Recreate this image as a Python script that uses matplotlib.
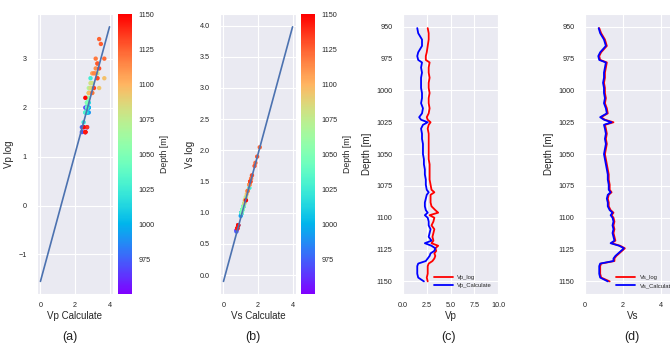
import numpy as np
import matplotlib
matplotlib.use('Agg')
import matplotlib.pyplot as plt
import seaborn as sns

sns.set_style('darkgrid')
plt.rcParams['font.family'] = ['Liberation Sans', 'DejaVu Sans']

# depth samples [m]
depth = [951, 955, 960, 965, 970, 973, 976, 978, 982, 986, 990, 994, 998, 1002,
         1006, 1010, 1014, 1018, 1021, 1023, 1025, 1027, 1030, 1034, 1038, 1042,
         1046, 1050, 1054, 1058, 1062, 1066, 1070, 1074, 1078, 1080, 1082, 1085,
         1088, 1091, 1094, 1096, 1098, 1100, 1103, 1106, 1109, 1112, 1115, 1118,
         1120, 1122, 1124, 1126, 1128, 1130, 1132, 1134, 1136, 1138, 1141, 1144,
         1147, 1150]

vp_log = [2.6, 2.7, 2.7, 2.6, 2.5, 2.4, 2.4, 2.8, 2.7, 2.7, 2.8, 2.7, 2.7, 2.8,
          2.7, 2.7, 2.8, 2.7, 2.5, 2.6, 2.9, 2.7, 2.6, 2.7, 2.7, 2.7,
          2.7, 2.7, 2.7, 2.8, 2.8, 2.8, 2.8, 2.9, 3.0, 3.3, 2.9, 2.9,
          2.9, 3.0, 3.4, 3.7, 2.8, 3.3, 3.2, 3.0, 3.3, 3.2, 3.1, 3.2,
          3.0, 3.7, 3.4, 3.5, 3.3, 3.4, 3.3, 3.1, 2.7, 2.6, 2.6, 2.6,
          2.5, 2.6]

vp_calc = [1.5, 1.6, 2.0, 2.0, 1.6, 1.5, 1.6, 2.0, 1.9, 2.0, 1.9, 1.9, 1.9, 2.0,
           2.0, 1.9, 2.1, 2.0, 1.7, 1.9, 2.6, 2.1, 1.9, 2.0, 2.0, 2.1,
           2.1, 2.1, 2.2, 2.2, 2.3, 2.3, 2.4, 2.4, 2.5, 2.7, 2.5, 2.4,
           2.3, 2.3, 2.4, 2.6, 2.3, 2.6, 2.7, 2.7, 2.9, 2.8, 2.7, 3.0,
           2.3, 3.0, 3.4, 3.3, 2.9, 2.8, 2.6, 2.4, 1.6, 1.5, 1.5, 1.5,
           1.6, 2.2]

vs_log = [0.75, 0.85, 1.05, 1.15, 0.85, 0.75, 0.8, 1.15, 1.1, 1.05, 1.05, 1.0, 1.05, 1.05,
          1.1, 1.05, 1.15, 1.2, 0.85, 1.05, 1.5, 1.05, 1.1, 1.15, 1.1, 1.15,
          1.1, 1.05, 1.1, 1.15, 1.2, 1.25, 1.25, 1.3, 1.3, 1.4, 1.25, 1.2,
          1.25, 1.25, 1.35, 1.5, 1.4, 1.5, 1.55, 1.5, 1.55, 1.5, 1.55, 1.6,
          1.4, 1.85, 2.1, 1.95, 1.8, 1.65, 1.55, 1.55, 0.85, 0.8, 0.8, 0.8,
          0.85, 1.3]

vs_calc = [0.72, 0.8, 1.0, 1.1, 0.8, 0.7, 0.75, 1.1, 1.05, 1.0, 1.0, 0.95, 1.0, 1.0,
           1.05, 1.0, 1.1, 1.15, 0.8, 1.0, 1.4, 1.0, 1.05, 1.1, 1.05, 1.1,
           1.05, 1.0, 1.05, 1.1, 1.15, 1.2, 1.2, 1.25, 1.25, 1.35, 1.2, 1.15,
           1.2, 1.2, 1.3, 1.45, 1.35, 1.45, 1.5, 1.45, 1.5, 1.45, 1.5, 1.55,
           1.35, 1.8, 2.05, 1.9, 1.75, 1.6, 1.5, 1.5, 0.8, 0.75, 0.75, 0.75,
           0.8, 1.2]

# fitted lines (slope, intercept)
fit_vp = [1.3, -1.55]
fit_vs = [1.02, -0.1]
fit_x = [0, 4]

tick_fs = 5.2
lab_fs = 7

fig = plt.figure(figsize=(6.7, 3.44), dpi=100)
fig.patch.set_facecolor('white')

bot, h = 0.145, 0.814
ax_a = fig.add_axes([0.0552, bot, 0.1134, h])
cax_a = fig.add_axes([0.1761, bot, 0.0209, h])
ax_b = fig.add_axes([0.3284, bot, 0.1134, h])
cax_b = fig.add_axes([0.4493, bot, 0.0209, h])
ax_c = fig.add_axes([0.6015, bot, 0.1418, h])
ax_d = fig.add_axes([0.8731, bot, 0.1418, h])


def crossplot(ax, cax, x, y, fit, xlabel, ylabel):
    sc = ax.scatter(x, y, c=depth, cmap='rainbow', s=10, vmin=950, vmax=1150,
                    linewidths=0)
    fx = np.array(fit_x)
    ax.plot(fx, fit[0] * fx + fit[1], color='#4C72B0', lw=1.2)
    ax.set_xticks([0, 2, 4])
    ax.set_xlabel(xlabel, fontsize=lab_fs, labelpad=1)
    ax.set_ylabel(ylabel, fontsize=lab_fs, labelpad=3)
    ax.tick_params(axis='y', labelsize=tick_fs, pad=4)
    ax.tick_params(axis='x', labelsize=tick_fs, pad=2.5)
    cb = fig.colorbar(sc, cax=cax)
    cb.set_ticks([975, 1000, 1025, 1050, 1075, 1100, 1125, 1150])
    cb.ax.tick_params(labelsize=tick_fs, length=0, pad=4.5)
    cb.set_label('Depth [m]', fontsize=6.3, labelpad=4)
    cb.outline.set_visible(False)


crossplot(ax_a, cax_a, vp_log, vp_calc, fit_vp, 'Vp Calculate', 'Vp log')
ax_a.set_yticks([-1, 0, 1, 2, 3])
crossplot(ax_b, cax_b, vs_log, vs_calc, fit_vs, 'Vs Calculate', 'Vs log')
ax_b.set_yticks(np.arange(0, 4.01, 0.5))


def logplot(ax, a, b, la, lb, xlabel, xlim, xticks):
    ax.plot(a, depth, color='red', lw=1.3, label=la)
    ax.plot(b, depth, color='blue', lw=1.3, label=lb)
    ax.set_ylim(1160, 940)
    ax.set_yticks(np.arange(950, 1151, 25))
    ax.set_xlim(*xlim)
    ax.set_xticks(xticks)
    ax.set_xlabel(xlabel, fontsize=lab_fs, labelpad=1)
    ax.set_ylabel('Depth [m]', fontsize=lab_fs, labelpad=3)
    ax.tick_params(axis='y', labelsize=tick_fs, pad=4)
    ax.tick_params(axis='x', labelsize=tick_fs, pad=2.5)
    ax.legend(loc='lower right', fontsize=4.2, frameon=False, handlelength=3.2,
              borderaxespad=0.6, labelspacing=0.5)


logplot(ax_c, vp_log, vp_calc, 'Vp_log', 'Vp_Calculate', 'Vp', (0, 10),
        [0, 2.5, 5, 7.5, 10])
ax_c.xaxis.set_major_formatter(matplotlib.ticker.FormatStrFormatter('%.1f'))
logplot(ax_d, vs_log, vs_calc, 'Vs_log', 'Vs_Calculate', 'Vs', (0, 5), [0, 2, 4])

for xp, t in [(0.1045, '(a)'), (0.3776, '(b)'), (0.670, '(c)'), (0.943, '(d)')]:
    fig.text(xp, 0.021, t, fontsize=9, ha='center', va='center', color='#222222')

fig.savefig('out.png', dpi=100)
